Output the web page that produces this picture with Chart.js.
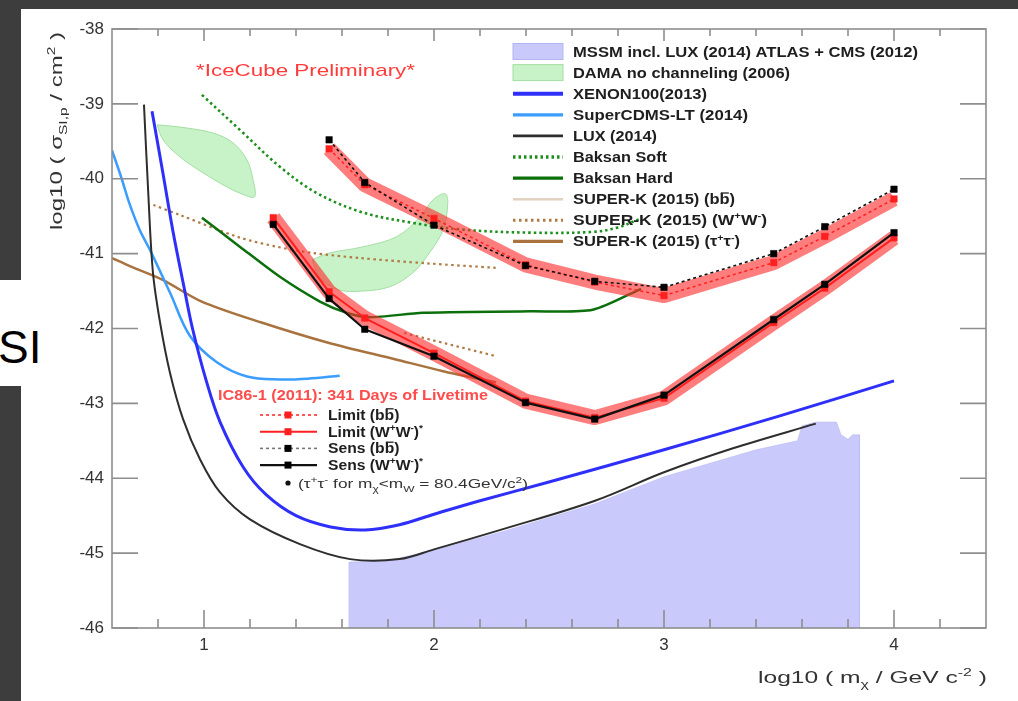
<!DOCTYPE html>
<html lang="en">
<head>
<meta charset="utf-8">
<title>Spin-independent WIMP-proton cross section limits</title>
<script src="https://cdn.jsdelivr.net/npm/chart.js@4.4.1/dist/chart.umd.min.js"></script>
<style>
  html, body { margin: 0; padding: 0; width: 1018px; height: 701px; overflow: hidden; background: #3d3d3d; }
  #sheet { position: absolute; left: 21px; top: 9px; right: 0; bottom: 0; background: #fff; }
  #tag { position: absolute; left: 0; top: 280px; width: 40px; height: 106px; background: #fff; }
  #tagText { position: absolute; left: -2px; top: 324px; font: 46px/46px "Liberation Sans", Arial, sans-serif; color: #000; }
  #plot { position: absolute; left: 0; top: 0; }
</style>
</head>
<body>
<div id="sheet"></div>
<div id="tag"></div>
<div id="tagText">SI</div>
<canvas id="plot" width="1018" height="701"></canvas>
<script>
// ---- axis ticks -------------------------------------------------------
const xTicks = [1, 2, 3, 4];
const yTicks = [-38, -39, -40, -41, -42, -43, -44, -45, -46];

// ---- MSSM scan region (upper edge, closed down to the axis) ----------
const mssmX = [1.63, 1.63, 1.8, 2.0, 2.3, 2.7, 3.0, 3.2, 3.4, 3.58, 3.6, 3.66, 3.75, 3.77, 3.8, 3.82, 3.85, 3.85];
const mssmY = [-46, -45.12, -45.1, -44.96, -44.71, -44.34, -43.98, -43.8, -43.62, -43.5, -43.3, -43.25, -43.25, -43.42, -43.48, -43.42, -43.42, -46];

// ---- DAMA contours ----------------------------------------------------
const dama1X = [0.796, 0.896, 1.04, 1.126, 1.187, 1.213, 1.22, 1.17, 1.1, 0.996, 0.896, 0.822, 0.796];
const dama1Y = [-39.28, -39.31, -39.39, -39.52, -39.75, -40.01, -40.24, -40.21, -40.11, -39.92, -39.71, -39.48, -39.28];
const dama2X = [1.47, 1.548, 1.69, 1.84, 1.94, 1.996, 2.048, 2.06, 2.04, 1.98, 1.91, 1.81, 1.69, 1.58, 1.5, 1.47];
const dama2Y = [-41.08, -40.99, -40.91, -40.77, -40.51, -40.28, -40.2, -40.32, -40.68, -40.99, -41.25, -41.44, -41.5, -41.48, -41.31, -41.08];

// ---- direct detection -------------------------------------------------
const xenonX = [0.774, 0.82, 0.865, 0.91, 0.95, 1.01, 1.07, 1.17, 1.27, 1.4, 1.55, 1.7, 1.85, 2.0, 2.2, 2.5, 3.0, 3.5, 4.0];
const xenonY = [-39.1, -39.9, -40.7, -41.4, -42.0, -42.7, -43.25, -43.85, -44.22, -44.5, -44.65, -44.69, -44.62, -44.48, -44.3, -44.05, -43.62, -43.17, -42.7];
const cdmsX = [0.6, 0.64, 0.678, 0.72, 0.765, 0.852, 0.939, 1.056, 1.187, 1.33, 1.45, 1.59];
const cdmsY = [-39.62, -39.98, -40.35, -40.68, -40.95, -41.52, -42.1, -42.45, -42.64, -42.68, -42.67, -42.63];
const luxX = [0.739, 0.757, 0.778, 0.809, 0.852, 0.909, 0.983, 1.07, 1.2, 1.417, 1.635, 1.85, 2.0, 2.3, 2.7, 3.0, 3.3, 3.66];
const luxY = [-39.01, -40.15, -41.25, -41.92, -42.59, -43.21, -43.75, -44.19, -44.55, -44.88, -45.08, -45.08, -44.95, -44.68, -44.3, -43.92, -43.6, -43.27];

// ---- indirect detection (Baksan, Super-K) -----------------------------
const baksanSoftX = [0.991, 1.157, 1.33, 1.49, 1.69, 1.91, 2.126, 2.417, 2.69, 2.8, 2.9];
const baksanSoftY = [-38.88, -39.35, -39.84, -40.19, -40.45, -40.59, -40.68, -40.72, -40.71, -40.65, -40.53];
const baksanHardX = [0.991, 1.157, 1.33, 1.504, 1.62, 1.72, 1.952, 2.417, 2.69, 2.9];
const baksanHardY = [-40.52, -40.91, -41.31, -41.64, -41.79, -41.85, -41.79, -41.77, -41.75, -41.47];
const skTauX = [0.6, 0.68, 0.82, 0.99, 1.25, 1.54, 1.83, 2.04, 2.27];
const skTauY = [-41.06, -41.17, -41.35, -41.64, -41.92, -42.19, -42.41, -42.57, -42.72];
const skWWX = [0.78, 0.9, 1.15, 1.32, 1.47, 1.68, 1.97, 2.27];
const skWWY = [-40.35, -40.49, -40.78, -40.91, -40.99, -41.06, -41.13, -41.19];
const skWW2X = [1.87, 2.27];
const skWW2Y = [-42.06, -42.37];

// ---- IceCube IC86-1 ---------------------------------------------------
const bbX = [1.544, 1.699, 2.0, 2.398, 2.699, 3.0, 3.477, 3.699, 4.0];
const limitBB = [-39.6, -40.08, -40.53, -41.15, -41.38, -41.56, -41.12, -40.77, -40.27];
const sensBB = [-39.48, -40.05, -40.62, -41.16, -41.37, -41.45, -41.0, -40.64, -40.14];
const wwX = [1.301, 1.544, 1.699, 2.0, 2.398, 2.699, 3.0, 3.477, 3.699, 4.0];
const limitWW = [-40.52, -41.51, -41.86, -42.33, -42.97, -43.19, -42.93, -41.92, -41.46, -40.79];
const sensWW = [-40.61, -41.6, -42.01, -42.37, -42.99, -43.21, -42.89, -41.88, -41.41, -40.72];

const FONT = '"Liberation Sans", Arial, Helvetica, sans-serif';
const pts = (xs, ys) => xs.map((x, i) => ({ x, y: ys[i] }));
const curve = (label, xs, ys, style) =>
  Object.assign({ label, data: pts(xs, ys), pointRadius: 0, fill: false, tension: 0, borderJoinStyle: 'round' }, style);

const RED = '#ff1f1f';
const BAND = 'rgba(255, 45, 45, 0.62)';

const datasets = [
  curve('MSSM', mssmX, mssmY, { fill: { value: -46 }, backgroundColor: '#c9c9fb', borderColor: '#b4b4f2', borderWidth: 0.5 }),
  curve('DAMA', dama1X, dama1Y, { fill: 'shape', tension: 0.35, backgroundColor: '#c8f2c8', borderColor: '#a3dea3', borderWidth: 1 }),
  curve('DAMA-2', dama2X, dama2Y, { fill: 'shape', tension: 0.35, backgroundColor: '#c8f2c8', borderColor: '#a3dea3', borderWidth: 1 }),
  curve('SUPER-K bb', [], [], { borderColor: '#e2d2c2', borderWidth: 2 }),
  curve('SUPER-K tautau', skTauX, skTauY, { tension: 0.3, borderColor: '#a8733f', borderWidth: 2.5 }),
  curve('SUPER-K WW', skWWX, skWWY, { tension: 0.3, borderColor: '#b07a45', borderWidth: 2.2, borderDash: [2.5, 3.5] }),
  curve('SUPER-K WW-2', skWW2X, skWW2Y, { borderColor: '#b07a45', borderWidth: 2.2, borderDash: [2.5, 3.5] }),
  curve('SuperCDMS', cdmsX, cdmsY, { tension: 0.35, borderColor: '#3a9dff', borderWidth: 2.5 }),
  curve('LUX', luxX, luxY, { tension: 0.35, borderColor: '#2e2e2e', borderWidth: 2 }),
  curve('XENON100', xenonX, xenonY, { tension: 0.35, borderColor: '#2f2ffa', borderWidth: 3 }),
  curve('Baksan Soft', baksanSoftX, baksanSoftY, { tension: 0.35, borderColor: '#1c901c', borderWidth: 2.6, borderDash: [2.5, 3] }),
  curve('Baksan Hard', baksanHardX, baksanHardY, { tension: 0.25, borderColor: '#0b6f0b', borderWidth: 2.5 }),
  curve('band bb', bbX, limitBB, { borderColor: BAND, borderWidth: 15 }),
  curve('band WW', wwX, limitWW, { borderColor: BAND, borderWidth: 15 }),
  curve('Limit bb', bbX, limitBB, { borderColor: RED, borderWidth: 1.5, borderDash: [3, 3],
    pointStyle: 'rect', pointRadius: 4.6, pointBackgroundColor: RED, pointBorderColor: RED, pointBorderWidth: 0.5 }),
  curve('Limit WW', wwX, limitWW, { borderColor: RED, borderWidth: 2,
    pointStyle: 'rect', pointRadius: 4.6, pointBackgroundColor: RED, pointBorderColor: RED, pointBorderWidth: 0.5 }),
  curve('Sens bb', bbX, sensBB, { borderColor: '#111', borderWidth: 1.6, borderDash: [3, 3],
    pointStyle: 'rect', pointRadius: 4.6, pointBackgroundColor: '#000', pointBorderColor: '#000', pointBorderWidth: 0.5 }),
  curve('Sens WW', wwX, sensWW, { borderColor: '#111', borderWidth: 2.2,
    pointStyle: 'rect', pointRadius: 4.6, pointBackgroundColor: '#000', pointBorderColor: '#000', pointBorderWidth: 0.5 })
];
// first entry is drawn first (lowest layer)
datasets.forEach((d, i) => { d.order = datasets.length - i; });
const byLabel = l => datasets.find(d => d.label === l);

// text made of plain / superscript / subscript / overlined runs, stretched to a given length
function drawRich(ctx, runs, x, y, o) {
  const size = o.size, wt = o.weight || 'normal';
  const fontFor = r => `${wt} ${r.s ? Math.round(size * 0.66) : size}px ${FONT}`;
  let total = 0;
  const widths = runs.map(r => { ctx.font = fontFor(r); const w = ctx.measureText(r.t).width; total += w; return w; });
  const sx = o.width ? o.width / total : (o.sx || 1);
  ctx.save();
  ctx.translate(x, y);
  if (o.angle) ctx.rotate(o.angle);
  ctx.scale(sx, 1);
  ctx.fillStyle = o.color; ctx.strokeStyle = o.color;
  ctx.textAlign = 'left'; ctx.textBaseline = 'alphabetic';
  let cx = 0;
  runs.forEach((r, i) => {
    ctx.font = fontFor(r);
    const dy = r.s === 'sup' ? -size * 0.42 : r.s === 'sub' ? size * 0.3 : 0;
    ctx.fillText(r.t, cx, dy);
    if (r.over) {
      ctx.lineWidth = size * 0.09;
      ctx.beginPath();
      ctx.moveTo(cx + size * 0.08, dy - size * 0.8);
      ctx.lineTo(cx + widths[i] - size * 0.04, dy - size * 0.8);
      ctx.stroke();
    }
    cx += widths[i];
  });
  ctx.restore();
}

const T = t => ({ t });
const SUP = t => ({ t, s: 'sup' });
const SUB = t => ({ t, s: 'sub' });
const BAR = t => ({ t, over: true });

const legendMain = [
  { ds: 'MSSM', runs: [T('MSSM incl. LUX (2014) ATLAS + CMS (2012)')], w: 345 },
  { ds: 'DAMA', runs: [T('DAMA no channeling (2006)')], w: 217 },
  { ds: 'XENON100', runs: [T('XENON100(2013)')], w: 134 },
  { ds: 'SuperCDMS', runs: [T('SuperCDMS-LT (2014)')], w: 175 },
  { ds: 'LUX', runs: [T('LUX (2014)')], w: 84 },
  { ds: 'Baksan Soft', runs: [T('Baksan Soft')], w: 94 },
  { ds: 'Baksan Hard', runs: [T('Baksan Hard')], w: 100 },
  { ds: 'SUPER-K bb', runs: [T('SUPER-K (2015) (b'), BAR('b'), T(')')], w: 162 },
  { ds: 'SUPER-K WW', runs: [T('SUPER-K (2015) (W'), SUP('+'), T('W'), SUP('-'), T(')')], w: 194 },
  { ds: 'SUPER-K tautau', runs: [T('SUPER-K (2015) (τ'), SUP('+'), T('τ'), SUP('-'), T(')')], w: 167 }
];
const legendIce = [
  { ds: 'Limit bb', runs: [T('Limit (b'), BAR('b'), T(')')] },
  { ds: 'Limit WW', runs: [T('Limit (W'), SUP('+'), T('W'), SUP('-'), T(')'), SUP('*')] },
  { ds: 'Sens bb', runs: [T('Sens (b'), BAR('b'), T(')')] },
  { ds: 'Sens WW', runs: [T('Sens (W'), SUP('+'), T('W'), SUP('-'), T(')'), SUP('*')] }
];

function strokeSample(ctx, d, x0, x1, y, widthScale) {
  ctx.save();
  ctx.strokeStyle = d.borderColor;
  ctx.lineWidth = (d.borderWidth || 1) * (widthScale || 1);
  ctx.setLineDash(d.borderDash || []);
  ctx.beginPath(); ctx.moveTo(x0, y); ctx.lineTo(x1, y); ctx.stroke();
  ctx.restore();
}

const frame = {
  id: 'frame',
  afterDraw(chart) {
    const { ctx, chartArea: a, scales: { x, y } } = chart;
    ctx.save();
    ctx.strokeStyle = '#8e8e8e';
    ctx.lineWidth = 1.6;
    ctx.strokeRect(a.left, a.top, a.right - a.left, a.bottom - a.top);
    ctx.beginPath();
    for (let k = 4; k <= 21; k++) {
      const px = x.getPixelForValue(k / 5);
      const major = k % 5 === 0;
      ctx.moveTo(px, a.bottom); ctx.lineTo(px, a.bottom - (major ? 18 : 9));
      ctx.moveTo(px, a.top); ctx.lineTo(px, a.top + (major ? 12 : 7));
    }
    yTicks.forEach(v => {
      const py = y.getPixelForValue(v);
      ctx.moveTo(a.left, py); ctx.lineTo(a.left + 26, py);
      ctx.moveTo(a.right, py); ctx.lineTo(a.right - 26, py);
    });
    ctx.stroke();
    ctx.restore();
  }
};

const annotations = {
  id: 'annotations',
  afterDraw(chart) {
    const ctx = chart.ctx;
    // axis titles
    drawRich(ctx, [T('log10 ( σ'), SUB('SI,p'), T(' / cm'), SUP('2'), T(' )')], 62, 230,
      { size: 17, width: 198, color: '#333', angle: -Math.PI / 2 });
    drawRich(ctx, [T('log10 ( m'), SUB('χ'), T(' / GeV c'), SUP('-2'), T(' )')], 758, 683,
      { size: 17, width: 229, color: '#333' });
    drawRich(ctx, [T('*IceCube Preliminary*')], 196, 76, { size: 17, width: 219, color: '#ff3b3b' });

    // main legend
    legendMain.forEach((e, i) => {
      const yc = 51.5 + i * 21.1;
      const d = byLabel(e.ds);
      if (d.fill) {
        ctx.save();
        ctx.fillStyle = d.backgroundColor; ctx.strokeStyle = d.borderColor; ctx.lineWidth = 1;
        ctx.fillRect(513, yc - 8, 50, 16); ctx.strokeRect(513, yc - 8, 50, 16);
        ctx.restore();
      } else {
        strokeSample(ctx, d, 513, 563, yc, 1.3);
      }
      drawRich(ctx, e.runs, 573, yc + 5, { size: 14, weight: 'bold', width: e.w, color: '#1e1e1e' });
    });

    // IceCube legend
    drawRich(ctx, [T('IC86-1 (2011): 341 Days of Livetime')], 218, 400, { size: 14, weight: 'bold', width: 270, color: '#ff4d4d' });
    legendIce.forEach((e, i) => {
      const yc = 415 + i * 16.7;
      const d = byLabel(e.ds);
      const sample = Object.assign({}, d, { borderColor: e.ds === 'Sens bb' ? '#777' : d.borderColor });
      strokeSample(ctx, sample, 260, 317, yc, 1);
      ctx.fillStyle = d.pointBackgroundColor;
      ctx.fillRect(284.5, yc - 3.5, 7, 7);
      drawRich(ctx, e.runs, 328, yc + 5, { size: 14, weight: 'bold', sx: 1.12, color: '#1e1e1e' });
    });
    ctx.fillStyle = '#111';
    ctx.beginPath(); ctx.arc(288, 483, 2.6, 0, Math.PI * 2); ctx.fill();
    drawRich(ctx, [T('(τ'), SUP('+'), T('τ'), SUP('-'), T(' for m'), SUB('χ'), T('<m'), SUB('W'), T(' = 80.4GeV/c'), SUP('2'), T(')')],
      298, 488, { size: 13, width: 230, color: '#333' });
  }
};

new Chart(document.getElementById('plot'), {
  type: 'line',
  data: { datasets },
  options: {
    responsive: false,
    animation: false,
    devicePixelRatio: 1,
    events: [],
    layout: { padding: { left: 21, top: 29, right: 32, bottom: 37 } },
    plugins: { legend: { display: false }, tooltip: { enabled: false }, title: { display: false } },
    scales: {
      x: {
        type: 'linear', min: 0.6, max: 4.4,
        grid: { display: false, drawTicks: false }, border: { display: false },
        afterBuildTicks: s => { s.ticks = xTicks.map(v => ({ value: v })); },
        afterFit: s => { s.height = 36; },
        ticks: { padding: 7, autoSkip: false, maxRotation: 0, color: '#333', font: { family: FONT, size: 17 }, callback: v => String(v) }
      },
      y: {
        type: 'linear', min: -46, max: -38,
        grid: { display: false, drawTicks: false }, border: { display: false },
        afterBuildTicks: s => { s.ticks = yTicks.map(v => ({ value: v })); },
        afterFit: s => { s.width = 91; },
        ticks: { padding: 8, autoSkip: false, color: '#333', font: { family: FONT, size: 17 }, callback: v => String(v) }
      }
    }
  },
  plugins: [frame, annotations]
});
</script>
</body>
</html>
